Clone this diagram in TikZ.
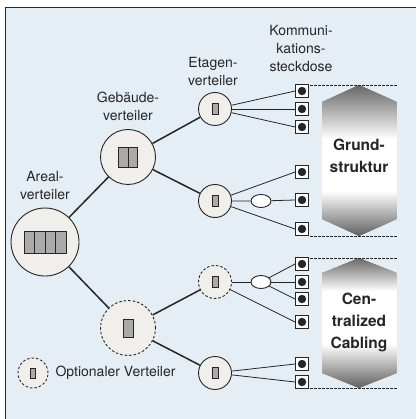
\documentclass[tikz,border=0pt]{standalone}
\usepackage{fontspec}
\setmainfont{TeX Gyre Heros}
\definecolor{paper}{RGB}{229,237,245}
\definecolor{disc}{RGB}{241,239,236}
\definecolor{cellgray}{RGB}{170,170,170}
\definecolor{ink}{RGB}{38,38,38}
\definecolor{tipgray}{RGB}{100,100,100}
\usetikzlibrary{shapes.geometric,calc}
\newcommand\bandfill[4]{%
  \foreach \y in {#1,...,#2} {%
    \pgfmathsetmacro\shadeval{100*max(0,(#3-\y)/(#3-#1)) + 100*max(0,(\y-#4)/(#2-#4))}
    \fill[tipgray!\shadeval!white] (322,\y-0.7) rectangle (397,\y+0.7);
  }
  \fill[white] (322,#3) rectangle (397,#4);}
\tikzset{
  vert/.style={circle, draw=ink, line width=0.9pt, fill=disc, inner sep=0pt},
  optional/.style={dash pattern=on 2.5pt off 2pt},
  cell/.style={draw=ink, line width=0.7pt, fill=cellgray, inner sep=0pt},
  dose/.style={draw=ink, line width=0.9pt, fill=white, minimum size=13pt, inner sep=0pt,
    path picture={\fill[black!85] (path picture bounding box.center) circle (4.2pt);}},
  knot/.style={ellipse, draw=ink, line width=0.9pt, fill=white,
    minimum width=20pt, minimum height=13pt, inner sep=0pt},
  trunk/.style={ink, line width=1.5pt},
  drop/.style={ink, line width=0.8pt},
  lbl/.style={font=\fontsize{14}{18}\selectfont, align=center, text=ink},
  big/.style={font=\fontsize{15.5}{22}\selectfont\bfseries, align=center, text=ink},
  rim/.style={ink, line width=0.8pt, dash pattern=on 2.5pt off 1.5pt},
}
\begin{document}
\begin{tikzpicture}[x=1pt,y=-1pt]
    \useasboundingbox (0,0) rectangle (416,419);
    \fill[paper] (5,7) rectangle (416,419);
    \draw[ink, line width=0.8pt] (5,419) -- (5,7) -- (416,7);

    % Verteiler
    \node[vert,minimum size=68pt] (areal) at (45,242) {};
    \node[vert,minimum size=55pt] (geb) at (128,157) {};
    \node[vert,optional,minimum size=55pt] (gebopt) at (128,328) {};
    \node[vert,minimum size=33pt] (eta1) at (215,109) {};
    \node[vert,minimum size=33pt] (eta2) at (215,201) {};
    \node[vert,optional,minimum size=33pt] (etaopt) at (215,282) {};
    \node[vert,minimum size=33pt] (eta4) at (215,373) {};
    \node[vert,optional,minimum size=30pt] (legend) at (33,373) {};

    \foreach \i in {0,...,3}
      \node[cell,minimum width=10.5pt,minimum height=22pt] at ($(areal)+(-15.75+10.5*\i,0)$) {};
    \foreach \i in {0,1}
      \node[cell,minimum width=9.5pt,minimum height=20pt] at ($(geb)+(-4.75+9.5*\i,0)$) {};
    \node[cell,minimum width=10pt,minimum height=18pt] at (gebopt) {};
    \foreach \v in {eta1,eta2,etaopt,eta4}
      \node[cell,minimum width=6pt,minimum height=11pt] at (\v) {};
    \node[cell,minimum width=5pt,minimum height=10pt] at (legend) {};

    % Steckdosen
    \foreach \n/\y in {1/91,2/109,3/127,4/172,5/200,6/229,7/264,8/282,9/299,10/322,11/364,12/382}
      \node[dose] (s\n) at (302,\y) {};
    \node[knot] (o1) at (261,201) {};
    \node[knot] (o2) at (261,282) {};

    \draw[trunk] (areal) -- (geb);
    \draw[trunk] (areal) -- (gebopt);
    \draw[trunk] (geb) -- (eta1);
    \draw[trunk] (geb) -- (eta2);
    \draw[trunk] (gebopt) -- (etaopt);
    \draw[trunk] (gebopt) -- (eta4);

    \foreach \n in {1,2,3} \draw[drop] (eta1) -- (s\n.west);
    \draw[drop] (eta2) -- (s4.west);
    \draw[drop] (eta2) -- (o1) -- (s5.west);
    \draw[drop] (eta2) -- (s6.west);
    \draw[drop] (etaopt) -- (o2);
    \foreach \n in {7,8,9} \draw[drop] (o2) -- (s\n.west);
    \draw[drop] (etaopt) -- (s10.west);
    \draw[drop] (eta4) -- (s11.west);
    \draw[drop] (eta4) -- (s12.west);

    % Bereiche
    \begin{scope}
      \clip (322,102) -- (359,85) -- (397,102) -- (397,219) -- (359,236) -- (322,219) -- cycle;
      \bandfill{85}{236}{140}{192}
    \end{scope}
    \begin{scope}
      \clip (322,273) -- (359,258) -- (397,273) -- (397,373) -- (359,388) -- (322,373) -- cycle;
      \bandfill{258}{388}{292}{345}
    \end{scope}
    \foreach \y in {85,236,258,388} \draw[rim] (310,\y) -- (398,\y);
    \node[big] (grund) at (359,156) {Grund-\\struktur};
    \node[big] (central) at (359,322) {Cen-\\tralized\\Cabling};

    % Beschriftung
    \node[lbl] (arealtxt) at (45,186) {Areal-\\verteiler};
    \node[lbl] (gebtxt) at (128,106) {Gebäude-\\verteiler};
    \node[lbl] (etatxt) at (213,72) {Etagen-\\verteiler};
    \node[lbl] (dosetxt) at (301,49) {Kommuni-\\kations-\\steckdose};
    \node[lbl,anchor=west] (legtxt) at (52,373) {Optionaler Verteiler};
  \end{tikzpicture}
\end{document}
